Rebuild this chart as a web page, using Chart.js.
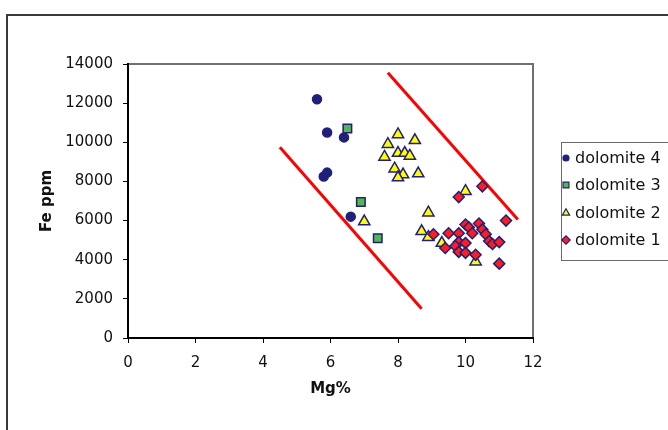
<!DOCTYPE html>
<html>
<head>
<meta charset="utf-8">
<script src="https://cdn.jsdelivr.net/npm/chart.js@4/dist/chart.umd.min.js"></script>
<style>
  body { margin: 0; background: #fff; }
  #wrap { width: 668px; height: 430px; position: relative; }
</style>
</head>
<body>
<div id="wrap"><canvas id="chart" width="668" height="430"></canvas></div>
<script>
// values: [Mg%, Fe ppm]
const dolomite4 = [
  [5.6, 12200], [5.9, 10500], [6.4, 10250], [5.8, 8250], [5.9, 8450], [6.6, 6200]
]
const dolomite3 = [
  [6.5, 10700], [6.9, 6950], [7.4, 5100]
]
const dolomite2 = [
  [8.0, 10400], [8.5, 10100], [7.7, 9900], [8.0, 9450], [8.2, 9450], [8.35, 9300],
  [7.6, 9250], [7.9, 8650], [8.15, 8350], [8.0, 8200], [8.6, 8400], [7.0, 5950],
  [8.9, 6400], [8.7, 5450], [8.9, 5150], [10.0, 7500], [9.3, 4850], [10.3, 3900]
]
const dolomite1 = [
  [10.5, 7750], [9.8, 7200], [11.2, 6000], [9.05, 5300], [9.5, 5350], [9.8, 5350],
  [10.0, 5800], [10.1, 5650], [10.2, 5350], [10.4, 5850], [10.5, 5550], [10.6, 5300],
  [10.7, 4950], [10.8, 4800], [11.0, 4900], [9.8, 4900], [10.0, 4850], [9.7, 4700],
  [9.4, 4600], [9.8, 4400], [10.0, 4350], [10.3, 4250], [11.0, 3800]
]
// the two red boundary lines
const upperLine = [[7.7, 13550], [11.55, 6050]]
const lowerLine = [[4.5, 9750], [8.7, 1500]]

const xTicks = [0, 2, 4, 6, 8, 10, 12]
const yTicks = [0, 2000, 4000, 6000, 8000, 10000, 12000, 14000]

const FONT = "'DejaVu Sans', sans-serif"
const NAVY = "#20207a"

const toPoints = (arr) => arr.map(([x, y]) => ({ x, y }))

const series = [
  { label: "dolomite 4", data: dolomite4, style: "circle", fill: NAVY, radius: 4.5, order: 4 },
  { label: "dolomite 3", data: dolomite3, style: "rect", fill: "#52b84a", radius: 6, order: 3 },
  { label: "dolomite 2", data: dolomite2, style: "triangle", fill: "#ffff00", radius: 6.5, order: 2 },
  { label: "dolomite 1", data: dolomite1, style: "rectRot", fill: "#ff1c1c", radius: 5.5, order: 1 }
]

const datasets = series.map(s => ({
  type: "scatter",
  label: s.label,
  data: toPoints(s.data),
  pointStyle: s.style,
  pointRadius: s.radius,
  pointBackgroundColor: s.fill,
  pointBorderColor: NAVY,
  pointBorderWidth: 1.5,
  order: s.order
}))

for (const line of [upperLine, lowerLine]) {
  datasets.push({
    type: "line",
    label: "",
    data: toPoints(line),
    borderColor: "#ff0000",
    borderWidth: 3,
    pointRadius: 0,
    fill: false,
    order: 5
  })
}

const framePlugin = {
  id: "frame",
  beforeDraw(chart) {
    const ctx = chart.ctx
    const a = chart.chartArea
    ctx.save()
    ctx.fillStyle = "#fff"
    ctx.fillRect(0, 0, chart.width, chart.height)
    // outer chart border
    ctx.strokeStyle = "#3a3a3a"
    ctx.lineWidth = 2
    ctx.strokeRect(7, 15, chart.width + 20, chart.height + 20)
    // plot area border (top / right)
    ctx.strokeStyle = "#707070"
    ctx.lineWidth = 2
    ctx.strokeRect(a.left, a.top, a.right - a.left, a.bottom - a.top)
    ctx.restore()
  },
  afterDraw(chart) {
    const ctx = chart.ctx
    ctx.save()
    // legend box
    ctx.strokeStyle = "#6a6a6a"
    ctx.lineWidth = 1
    ctx.strokeRect(561.5, 142.5, 110, 118)
    const rows = [158, 185, 213, 240]
    ctx.font = "16px " + FONT
    ctx.textBaseline = "middle"
    series.forEach((s, i) => {
      ctx.fillStyle = s.fill
      ctx.strokeStyle = NAVY
      ctx.lineWidth = 1.2
      Chart.helpers.drawPoint(ctx, { pointStyle: s.style, radius: s.style === "circle" ? 3 : 4.2, rotation: 0, borderWidth: 1.2 }, 566, rows[i])
      ctx.fillStyle = "#111"
      ctx.fillText(s.label, 575, rows[i] + 1)
    })
    ctx.restore()
  }
}

new Chart(document.getElementById("chart"), {
  data: { datasets },
  options: {
    responsive: false,
    animation: false,
    layout: { padding: { left: 0, top: 64, right: 135, bottom: 0 } },
    plugins: {
      legend: { display: false },
      tooltip: { enabled: false }
    },
    scales: {
      x: {
        type: "linear",
        min: 0,
        max: 12,
        afterBuildTicks: (scale) => { scale.ticks = xTicks.map(v => ({ value: v })) },
        afterFit: (scale) => { scale.height = 92 },
        grid: { drawOnChartArea: false, drawTicks: true, tickLength: 5, color: "#000", lineWidth: 1 },
        border: { display: true, color: "#000", width: 2 },
        ticks: { color: "#111", font: { family: FONT, size: 15 }, padding: 11, callback: (v) => String(v) },
        title: {
          display: true,
          text: "Mg%",
          color: "#111",
          font: { family: FONT, size: 15, weight: "bold" },
          padding: { top: 0, bottom: 32 }
        }
      },
      y: {
        type: "linear",
        min: 0,
        max: 14000,
        afterBuildTicks: (scale) => { scale.ticks = yTicks.map(v => ({ value: v })) },
        afterFit: (scale) => { scale.width = 128 },
        grid: { drawOnChartArea: false, drawTicks: true, tickLength: 5, color: "#000", lineWidth: 1 },
        border: { display: true, color: "#000", width: 2 },
        ticks: { color: "#111", font: { family: FONT, size: 15 }, padding: 10, callback: (v) => String(v) },
        title: {
          display: true,
          text: "Fe ppm",
          color: "#111",
          font: { family: FONT, size: 15, weight: "bold" },
          padding: { top: 38, bottom: 0 }
        }
      }
    }
  },
  plugins: [framePlugin]
})
</script>
</body>
</html>
